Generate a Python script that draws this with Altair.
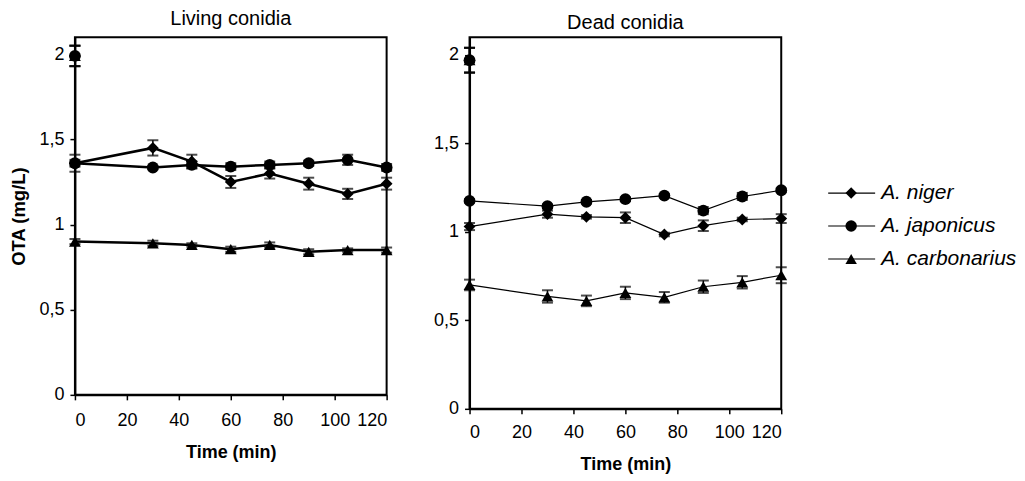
import altair as alt
import pandas as pd

FONT = "Liberation Sans"

times = [0, 30, 45, 60, 75, 90, 105, 120]
series = ["A. niger", "A. japonicus", "A. carbonarius"]
shapes = ["diamond", "circle", "triangle-up"]

# Living conidia
living_niger = [1.36, 1.45, 1.37, 1.25, 1.30, 1.24, 1.18, 1.24]
living_niger_err = [0.05, 0.045, 0.04, 0.035, 0.03, 0.035, 0.03, 0.035]
living_japonicus = [1.36, 1.335, 1.35, 1.34, 1.35, 1.36, 1.38, 1.335]
living_japonicus_err = [0.02, 0.01, 0.02, 0.02, 0.02, 0.015, 0.03, 0.02]
living_carbonarius = [0.90, 0.89, 0.88, 0.855, 0.88, 0.84, 0.85, 0.85]
living_carbonarius_err = [0.015, 0.015, 0.01, 0.015, 0.015, 0.015, 0.01, 0.015]
living_initial = [1.99, 1.99, 1.99]
living_initial_err = [0.06, 0.06, 0.06]

# Dead conidia
dead_niger = [1.03, 1.10, 1.085, 1.08, 0.985, 1.035, 1.07, 1.075]
dead_niger_err = [0.02, 0.02, 0.01, 0.03, 0.01, 0.03, 0.01, 0.025]
dead_japonicus = [1.175, 1.145, 1.17, 1.185, 1.205, 1.12, 1.20, 1.235]
dead_japonicus_err = [0.01, 0.01, 0.01, 0.01, 0.01, 0.02, 0.02, 0.01]
dead_carbonarius = [0.70, 0.635, 0.61, 0.655, 0.63, 0.69, 0.715, 0.755]
dead_carbonarius_err = [0.03, 0.035, 0.03, 0.035, 0.03, 0.035, 0.035, 0.045]
dead_initial = [1.97, 1.97, 1.97]
dead_initial_err = [0.07, 0.07, 0.07]

y_ticks = [0, 0.5, 1, 1.5, 2]
x_ticks = [0, 20, 40, 60, 80, 100, 120]


def make_df(vals, errs):
    rows = []
    for s, v, e in zip(series, vals, errs):
        for t, y, er in zip(times, v, e):
            rows.append({"time": t, "value": y, "lo": y - er, "hi": y + er, "series": s})
    return pd.DataFrame(rows)


def make_init(vals, errs):
    return pd.DataFrame(
        [{"time": 0, "value": v, "lo": v - e, "hi": v + e, "series": s}
         for s, v, e in zip(series, vals, errs)]
    )


def panel(df, init, title, height, line_w, title_offset, show_ytitle, label_pad):
    xs = alt.Scale(domain=[0, 120], nice=False)
    ys = alt.Scale(domain=[0, 2.1], nice=False)
    xaxis = alt.Axis(values=x_ticks, title="Time (min)", grid=False, labelFontSize=18,
                     titleFontSize=18, titleFontWeight="bold", labelPadding=label_pad,
                     titlePadding=14, tickSize=5, tickColor="black", tickWidth=1.5,
                     domainColor="black", domainWidth=2, labelColor="black",
                     titleColor="black", labelFont=FONT, titleFont=FONT)
    yaxis_kw = dict(values=y_ticks, grid=False, labelFontSize=18, format="~g",
                    labelExpr="replace(datum.label, '.', ',')", labelPadding=6,
                    tickSize=5, tickColor="black", tickWidth=1.5, domainColor="black",
                    domainWidth=2, labelColor="black", labelFont=FONT)
    if show_ytitle:
        yaxis = alt.Axis(title="OTA (mg/L)", titleFontSize=18.5, titleFontWeight="bold",
                         titlePadding=10, titleColor="black", titleFont=FONT, **yaxis_kw)
    else:
        yaxis = alt.Axis(title=None, **yaxis_kw)

    shp = alt.Shape("series:N", scale=alt.Scale(domain=series, range=shapes), legend=None)

    base = alt.Chart(df)
    x = alt.X("time:Q", scale=xs, axis=xaxis)
    y = alt.Y("value:Q", scale=ys, axis=yaxis)

    line = base.mark_line(color="black", strokeWidth=line_w).encode(x=x, y=y, detail="series:N")
    bars = base.mark_rule(color="black", strokeWidth=1.5).encode(
        x="time:Q", y="lo:Q", y2="hi:Q")
    cap_lo = base.mark_tick(color="black", orient="horizontal", size=11, thickness=2).encode(
        x="time:Q", y="lo:Q")
    cap_hi = base.mark_tick(color="black", orient="horizontal", size=11, thickness=2).encode(
        x="time:Q", y="hi:Q")
    pts = base.mark_point(filled=True, color="black", opacity=1, size=140).encode(
        x="time:Q", y="value:Q", shape=shp)

    ib = alt.Chart(init)
    ibars = ib.mark_rule(color="black", strokeWidth=1.5).encode(x="time:Q", y="lo:Q", y2="hi:Q")
    ilo = ib.mark_tick(color="black", orient="horizontal", size=11, thickness=2).encode(
        x="time:Q", y="lo:Q")
    ihi = ib.mark_tick(color="black", orient="horizontal", size=11, thickness=2).encode(
        x="time:Q", y="hi:Q")
    ipts = ib.mark_point(filled=True, color="black", opacity=1, size=140).encode(
        x="time:Q", y="value:Q", shape=shp)

    return alt.layer(line, bars, cap_lo, cap_hi, pts, ibars, ilo, ihi, ipts).properties(
        width=312, height=height,
        view=alt.ViewBackground(stroke="black", strokeWidth=2),
        title=alt.TitleParams(title, fontSize=20, fontWeight="normal", font=FONT,
                              color="black", offset=title_offset, anchor="middle"),
    )


left = panel(make_df([living_niger, living_japonicus, living_carbonarius],
                     [living_niger_err, living_japonicus_err, living_carbonarius_err]),
             make_init(living_initial, living_initial_err),
             "Living conidia", 358, 2.5, 8, True, 12)

right = panel(make_df([dead_niger, dead_japonicus, dead_carbonarius],
                      [dead_niger_err, dead_japonicus_err, dead_carbonarius_err]),
              make_init(dead_initial, dead_initial_err),
              "Dead conidia", 372, 1.2, 4, False, 10)

leg_df = pd.DataFrame({"series": series})
ly = alt.Y("series:N", scale=alt.Scale(type="point", domain=series, range=[156, 222], padding=0),
           axis=None)
leg_shape = alt.Shape("series:N", scale=alt.Scale(domain=series, range=shapes), legend=None)
leg_base = alt.Chart(leg_df)
leg_line = leg_base.mark_rule(color="black", strokeWidth=1.2).encode(
    x=alt.value(-8), x2=alt.value(39), y=ly)
leg_pts = leg_base.mark_point(filled=True, color="black", opacity=1, size=130).encode(
    x=alt.value(15), y=ly, shape=leg_shape)
leg_txt = leg_base.mark_text(align="left", baseline="middle", fontSize=21, fontStyle="italic",
                             font=FONT, color="black").encode(
    x=alt.value(45), y=ly, text="series:N")
legend = alt.layer(leg_line, leg_pts, leg_txt).properties(
    width=170, height=430, view=alt.ViewBackground(stroke="transparent"))

chart = alt.hconcat(left, right, legend, spacing=38).properties(padding=0).configure_view(
    stroke="black", strokeWidth=2).configure(font=FONT, background="white")

chart.save("out.html", embed_options={"renderer": "svg", "actions": False})
